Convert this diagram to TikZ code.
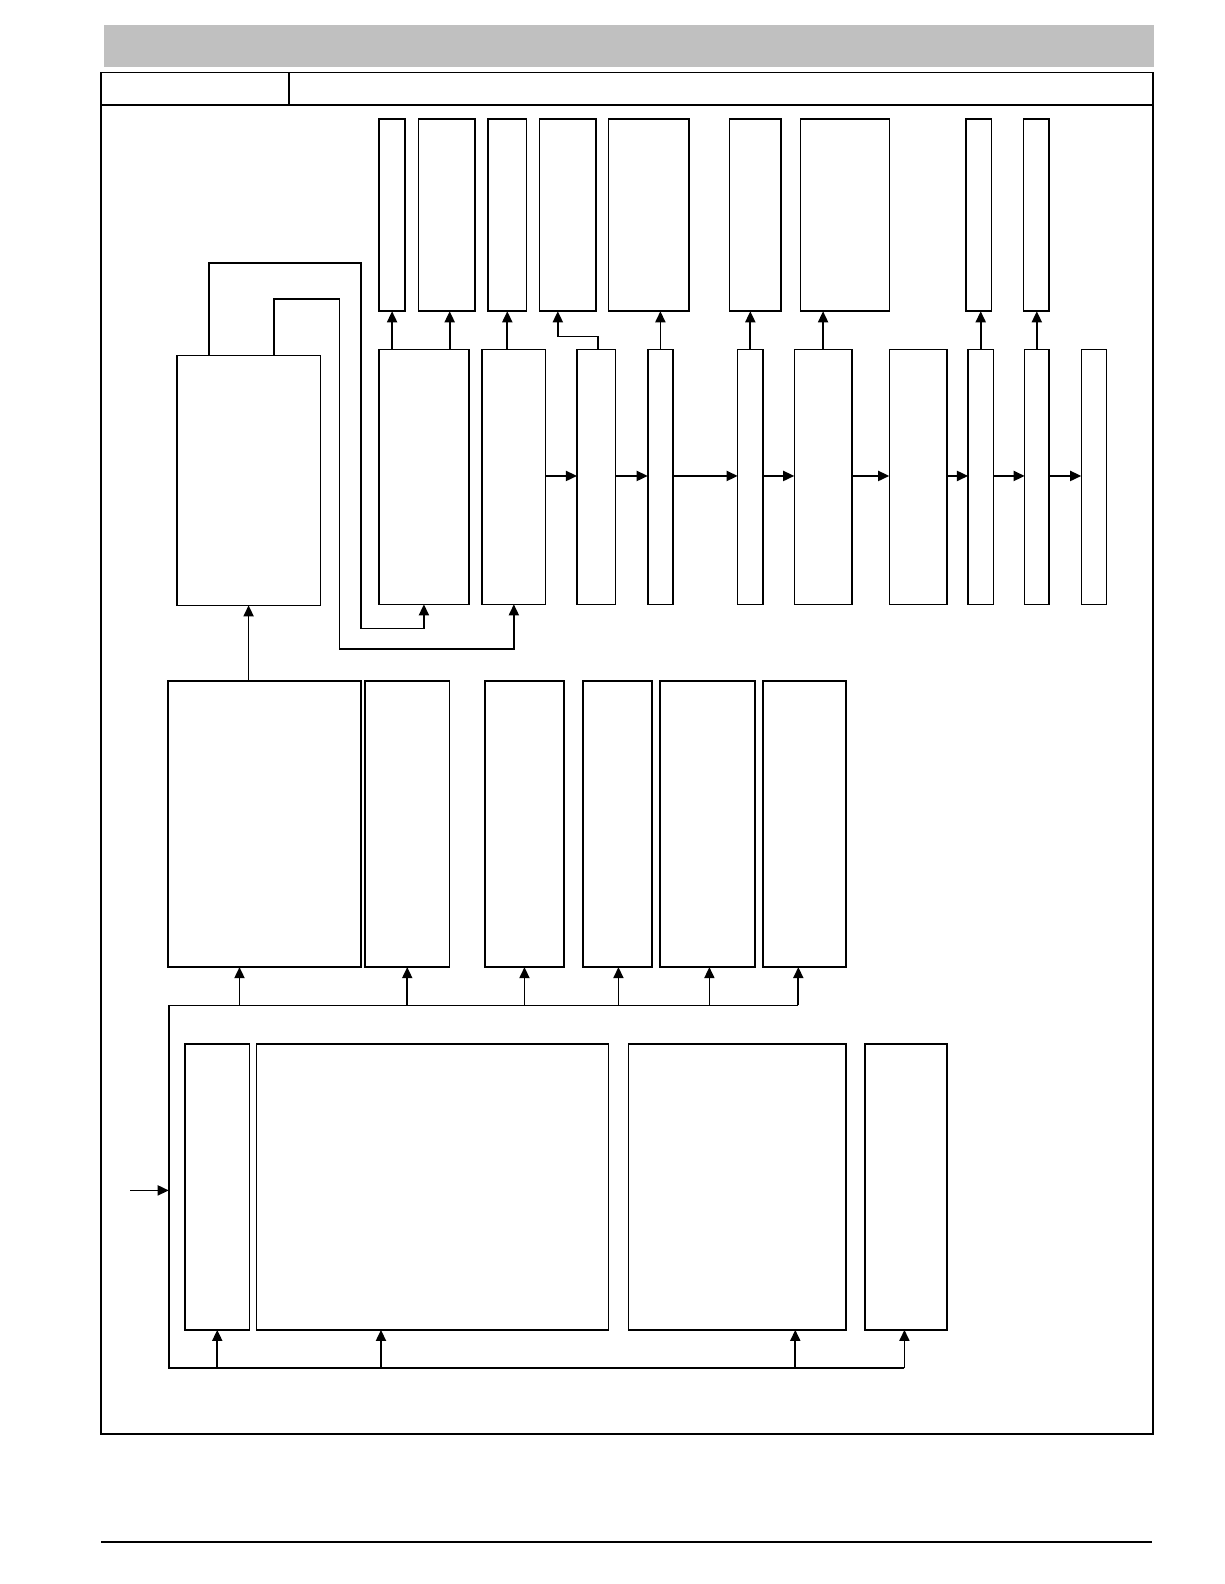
\documentclass[tikz,border=0pt]{standalone}
\usetikzlibrary{arrows.meta}
\definecolor{hdr}{HTML}{C0C0C0}
\newcommand{\bx}[5]{\node[box,anchor=north west,minimum width={#4pt-#2pt},minimum height={#5pt-#3pt}] (#1) at (#2,#3) {};}
\begin{document}
\begin{tikzpicture}[x=1pt,y=-1pt,
  box/.style={draw,line width=1.5pt,inner sep=0pt,outer sep=0pt},
  arr/.style={line width=1.7pt,-{Triangle[length=11pt,width=10pt]}},
  ln/.style={line width=1.8pt},
  frame/.style={line width=1.3pt}]
\useasboundingbox (0,0) rectangle (1211.3,1567.5);
% header bar
\fill[hdr] (103,25) rectangle (1142,66);
% frame
\draw[frame] (100,72) rectangle (1141,1419);
\draw[frame] (100,104) -- (1141,104);
\draw[frame] (286,72) -- (286,104);
% footer line
\draw[line width=2.5pt] (100,1526) -- (1140,1526);
% top row
\bx{T1}{375}{118}{401}{308}
\bx{T2}{414}{118}{470}{308}
\bx{T3}{483}{118}{521}{308}
\bx{T4}{534}{118}{590}{308}
\bx{T5}{602}{118}{682}{308}
\bx{T6}{722}{118}{773}{308}
\bx{T7}{792}{118}{880}{308}
\bx{T8}{956}{118}{981}{308}
\bx{T9}{1013}{118}{1038}{308}
% middle row
\bx{A}{375}{346}{464}{598}
\bx{B}{477}{346}{540}{598}
\bx{C}{571}{346}{609}{598}
\bx{D}{641}{346}{666}{598}
\bx{E}{730}{346}{755}{598}
\bx{F}{786}{346}{843}{598}
\bx{G}{880}{346}{937}{598}
\bx{H}{958}{346}{983}{598}
\bx{I}{1014}{346}{1038}{598}
\bx{J}{1070}{346}{1095}{598}
\bx{L}{175}{352}{317}{599}
% lower row
\bx{M1}{166}{674}{357}{957}
\bx{M2}{361}{674}{445}{957}
\bx{M3}{480}{674}{558}{957}
\bx{M4}{577}{674}{645}{957}
\bx{M5}{653}{674}{747}{957}
\bx{M6}{755}{674}{837}{957}
% bottom row
\bx{B1}{183}{1033}{247}{1316}
\bx{B2}{254}{1033}{602}{1316}
\bx{B3}{622}{1033}{837}{1316}
\bx{B4}{856}{1033}{937}{1316}
% chain arrows
\draw[arr] (B.east |- 0,471) -- (C.west |- 0,471);
\draw[arr] (C.east |- 0,471) -- (D.west |- 0,471);
\draw[arr] (D.east |- 0,471) -- (E.west |- 0,471);
\draw[arr] (E.east |- 0,471) -- (F.west |- 0,471);
\draw[arr] (F.east |- 0,471) -- (G.west |- 0,471);
\draw[arr] (G.east |- 0,471) -- (H.west |- 0,471);
\draw[arr] (H.east |- 0,471) -- (I.west |- 0,471);
\draw[arr] (I.east |- 0,471) -- (J.west |- 0,471);
% up arrows to top row
\draw[arr] (T1.south |- A.north) -- (T1.south);
\draw[arr] (445,0 |- A.north) -- (445,0 |- T2.south);
\draw[arr] (T3.south |- B.north) -- (T3.south);
\draw[arr] (592,0 |- C.north) -- (592,333) -- (552,333) -- (552,0 |- T4.south);
\draw[arr] (D.north) -- (D.north |- T5.south);
\draw[arr] (E.north) -- (E.north |- T6.south);
\draw[arr] (F.north) -- (F.north |- T7.south);
\draw[arr] (H.north) -- (H.north |- T8.south);
\draw[arr] (I.north) -- (I.north |- T9.south);
% loops from L
\draw[arr] (207,0 |- L.north) -- (207,260) -- (357,260) -- (357,622) -- (A.south |- 0,622) -- (A.south);
\draw[arr] (271,0 |- L.north) -- (271,296) -- (336,296) -- (336,642) -- (B.south |- 0,642) -- (B.south);
% M1 to L
\draw[arr] (L.south |- M1.north) -- (L.south);
% buses
\draw[ln] (790,995) -- (167,995) -- (167,1354) -- (895,1354);
\draw[arr] (237,995) -- (237,0 |- M1.south);
\draw[arr] (M2.south |- 0,995) -- (M2.south);
\draw[arr] (M3.south |- 0,995) -- (M3.south);
\draw[arr] (612,995) -- (612,0 |- M4.south);
\draw[arr] (702,995) -- (702,0 |- M5.south);
\draw[arr] (790,995) -- (790,0 |- M6.south);
\draw[arr] (B1.south |- 0,1354) -- (B1.south);
\draw[arr] (377,1354) -- (377,0 |- B2.south);
\draw[arr] (787,1354) -- (787,0 |- B3.south);
\draw[arr] (895,1354) -- (895,0 |- B4.south);
% input
\coordinate (in) at (129,1178);
\draw[arr] (in) -- (167,1178);
\end{tikzpicture}
\end{document}
